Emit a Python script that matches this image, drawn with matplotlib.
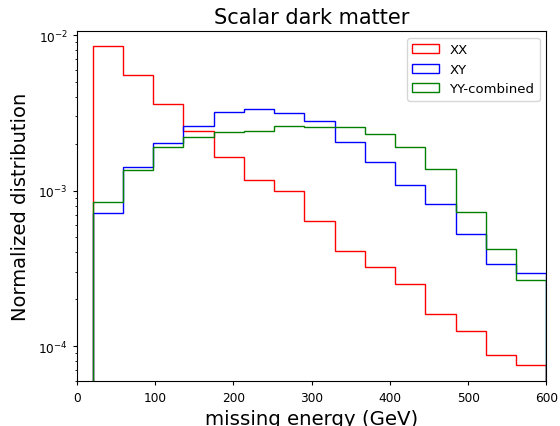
import numpy as np
import matplotlib
matplotlib.use("Agg")
import matplotlib.pyplot as plt

edges = np.linspace(20, 600, 16)

xx = [8.45e-3, 5.53e-3, 3.60e-3, 2.43e-3, 1.64e-3, 1.17e-3, 1.00e-3, 6.33e-4,
      4.10e-4, 3.21e-4, 2.49e-4, 1.61e-4, 1.25e-4, 8.8e-5, 7.6e-5]
xy = [7.13e-4, 1.41e-3, 2.01e-3, 2.61e-3, 3.21e-3, 3.34e-3, 3.13e-3, 2.79e-3,
      2.04e-3, 1.52e-3, 1.09e-3, 8.23e-4, 5.25e-4, 3.37e-4, 2.94e-4]
yy = [8.40e-4, 1.36e-3, 1.90e-3, 2.20e-3, 2.39e-3, 2.43e-3, 2.59e-3, 2.56e-3,
      2.55e-3, 2.31e-3, 1.90e-3, 1.37e-3, 7.27e-4, 4.21e-4, 2.65e-4]

labels = ["XX", "XY", "YY-combined"]
colors = ["r", "b", "g"]

fig = plt.figure(figsize=(5.6, 4.27), dpi=100)
ax = fig.add_axes([0.1375, 0.1047, 0.838, 0.8197])

centers = edges[:-1]
for vals, lab, col in zip([xx, xy, yy], labels, colors):
    ax.hist(centers, bins=edges, weights=vals, histtype="step",
            color=col, label=lab, log=True)

ax.set_yscale("log")
ax.set_xlim(0, 600)
ax.set_ylim(5.93e-5, 1.057e-2)
ax.set_title("Scalar dark matter", fontsize=15)
ax.set_xlabel("missing energy (GeV)", fontsize=14.2)
ax.set_ylabel("Normalized distribution", fontsize=14, labelpad=6)
ax.tick_params(which="major", labelsize=8.7, length=3.2)
ax.tick_params(which="minor", length=1.8)
ax.legend(loc="upper right", fontsize=9.5)

fig.savefig("out.png", dpi=100)
